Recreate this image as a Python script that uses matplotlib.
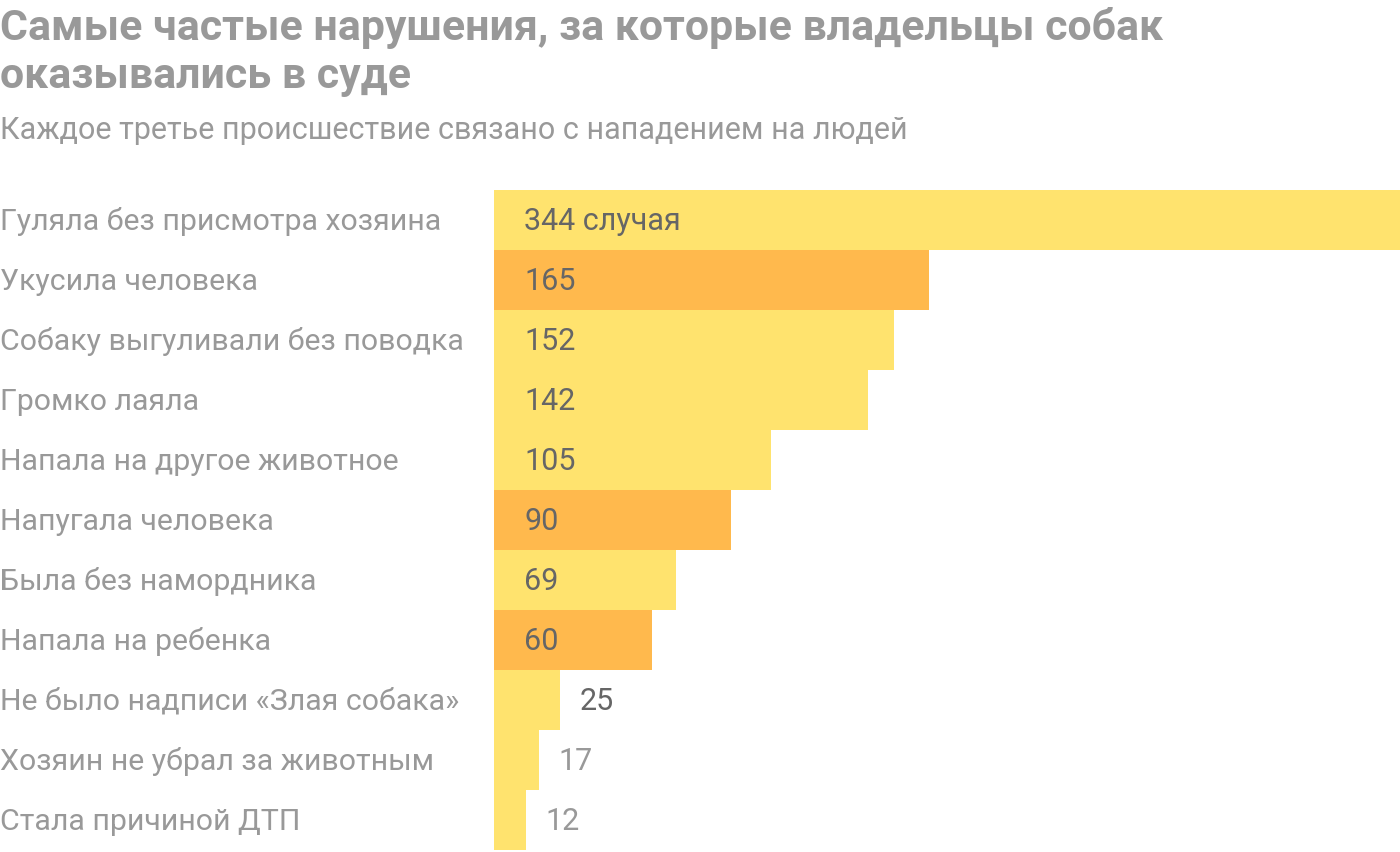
import matplotlib.pyplot as plt

plt.rcParams['font.family'] = ['Roboto', 'DejaVu Sans']

categories = [
    'Гуляла без присмотра хозяина',
    'Укусила человека',
    'Собаку выгуливали без поводка',
    'Громко лаяла',
    'Напала на другое животное',
    'Напугала человека',
    'Была без намордника',
    'Напала на ребенка',
    'Не было надписи «Злая собака»',
    'Хозяин не убрал за животным',
    'Стала причиной ДТП',
]
values = [344, 165, 152, 142, 105, 90, 69, 60, 25, 17, 12]
value_labels = ['344 случая', '165', '152', '142', '105', '90', '69', '60', '25', '17', '12']
# нападения на людей выделены оранжевым
people = [False, True, False, False, False, True, False, True, False, False, False]

yellow = '#FFE36E'
orange = '#FFB94D'
label_gray = '#999999'
value_dark = '#666666'

fig = plt.figure(figsize=(14, 8.52), dpi=100)
ax = fig.add_axes([494 / 1400, 2 / 852, 906 / 1400, 660 / 852])

y = list(range(len(values)))
colors = [orange if p else yellow for p in people]
ax.barh(y, values, height=1.0, color=colors, linewidth=0)
ax.set_xlim(0, 344)
ax.set_ylim(len(values) - 0.5, -0.5)
ax.axis('off')

# базовая линия текста на 10 px ниже центра полосы (полоса = 60 px)
base = 10 / 60
for i, (v, lab) in enumerate(zip(values, value_labels)):
    if v > 40:
        ax.annotate(lab, (0, i + base), xytext=(21.6, 0), textcoords='offset points',
                    va='baseline', ha='left', fontsize=22, color=value_dark)
    else:
        col = value_dark if v > 20 else label_gray
        ax.annotate(lab, (v, i + base), xytext=(14.5, 0), textcoords='offset points',
                    va='baseline', ha='left', fontsize=22, color=col)

for i, cat in enumerate(categories):
    yf = (852 - (230 + 60 * i)) / 852
    fig.text(0.0, yf, cat, ha='left', va='baseline', fontsize=21.8, color=label_gray)

fig.text(0.0, 1 - 40 / 852, 'Самые частые нарушения, за которые владельцы собак',
         ha='left', va='baseline', fontsize=30.9, fontweight='bold', color=label_gray)
fig.text(0.0, 1 - 88 / 852, 'оказывались в суде',
         ha='left', va='baseline', fontsize=30.9, fontweight='bold', color=label_gray)
fig.text(0.0, 1 - 139 / 852, 'Каждое третье происшествие связано с нападением на людей',
         ha='left', va='baseline', fontsize=22, color=label_gray)

fig.savefig('out.png', dpi=100)
